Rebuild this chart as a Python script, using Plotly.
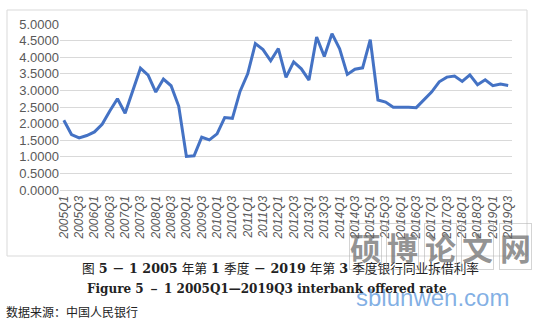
import plotly.graph_objects as go

quarters = [f"{y}Q{q}" for y in range(2005, 2020) for q in range(1, 5)][:59]
rates = [2.10, 1.67, 1.57, 1.64, 1.75, 1.98, 2.38, 2.75, 2.31, 2.97, 3.67, 3.46,
         2.95, 3.34, 3.14, 2.52, 1.01, 1.03, 1.59, 1.51, 1.69, 2.18, 2.16, 2.97,
         3.50, 4.41, 4.23, 3.89, 4.26, 3.39, 3.86, 3.65, 3.31, 4.61, 4.02, 4.71,
         4.25, 3.48, 3.64, 3.68, 4.53, 2.71, 2.65, 2.49, 2.50, 2.49, 2.48, 2.70,
         2.95, 3.26, 3.40, 3.43, 3.27, 3.47, 3.17, 3.32, 3.14, 3.19, 3.15]
tick_labels = quarters[::2]
y_ticks = [i * 0.5 for i in range(11)]

L, R, T, B = 60, 23, 24, 130
W, H = 535, 320
pw, ph = W - L - R, H - T - B

def px(x):
    return (x - L) / pw

def py(y):
    return (H - B - y) / ph

fig = go.Figure()
fig.add_trace(go.Scatter(x=quarters, y=rates, mode="lines",
                         line=dict(color="#4472C4", width=3)))

fig.update_layout(
    width=W, height=H, margin=dict(l=L, r=R, t=T, b=B),
    paper_bgcolor="white", plot_bgcolor="white", showlegend=False,
    xaxis=dict(type="category", range=[-0.5, len(quarters) - 0.5],
               tickvals=tick_labels, ticktext=tick_labels, tickangle=-90,
               tickfont=dict(family="Liberation Sans", size=12, color="#595959", style="italic"),
               showgrid=False, showline=True, linecolor="#d9d9d9", ticks=""),
    yaxis=dict(range=[0, 5], tickvals=y_ticks, ticktext=[f"{v:.4f}" for v in y_ticks],
               tickfont=dict(family="Liberation Sans", size=13, color="#595959"),
               showgrid=True, gridcolor="#d9d9d9", gridwidth=1, zeroline=False,
               showline=False, ticks=""),
)

# chart border
fig.add_shape(type="rect", xref="paper", yref="paper",
              x0=px(7), x1=px(527), y0=py(256), y1=py(10),
              line=dict(color="#d9d9d9", width=1), layer="below")

cn = "Noto Sans CJK SC"
fig.add_annotation(xref="paper", yref="paper", x=px(280), y=py(268), showarrow=False,
                   text="图 <b>5 － 1 2005</b> 年第 <b>1</b> 季度 <b>－ 2019</b> 年第 <b>3</b> 季度银行同业拆借利率",
                   font=dict(family="DejaVu Serif, " + cn, size=12.7, color="#222"),
                   xanchor="center", yanchor="middle")
fig.add_annotation(xref="paper", yref="paper", x=px(267), y=py(289), showarrow=False,
                   text="<b>Figure 5 － 1 2005Q1—2019Q3 interbank offered rate</b>",
                   font=dict(family="DejaVu Serif", size=12, color="#222"),
                   xanchor="center", yanchor="middle")
fig.add_annotation(xref="paper", yref="paper", x=px(4), y=py(311), showarrow=False,
                   text="数据来源：中国人民银行",
                   font=dict(family=cn, size=12, color="#222"),
                   xanchor="left", yanchor="middle")

# watermark (site stamp overlaid on the reference image)
for i, ch in enumerate("硕博论文网"):
    fig.add_annotation(xref="paper", yref="paper", x=px(365 + i * 37.5), y=py(246),
                       showarrow=False, text="<b>" + ch + "</b>",
                       font=dict(family=cn, size=31, color="rgba(100,100,100,0.7)"),
                       bordercolor="rgba(170,170,170,0.5)", borderwidth=1, borderpad=0,
                       xanchor="center", yanchor="middle")
fig.add_annotation(xref="paper", yref="paper", x=px(432), y=py(297), showarrow=False,
                   text="sblunwen.com",
                   font=dict(family="Liberation Sans", size=24, color="rgba(90,150,220,0.75)"),
                   xanchor="center", yanchor="middle")

fig.write_html("out.html")
